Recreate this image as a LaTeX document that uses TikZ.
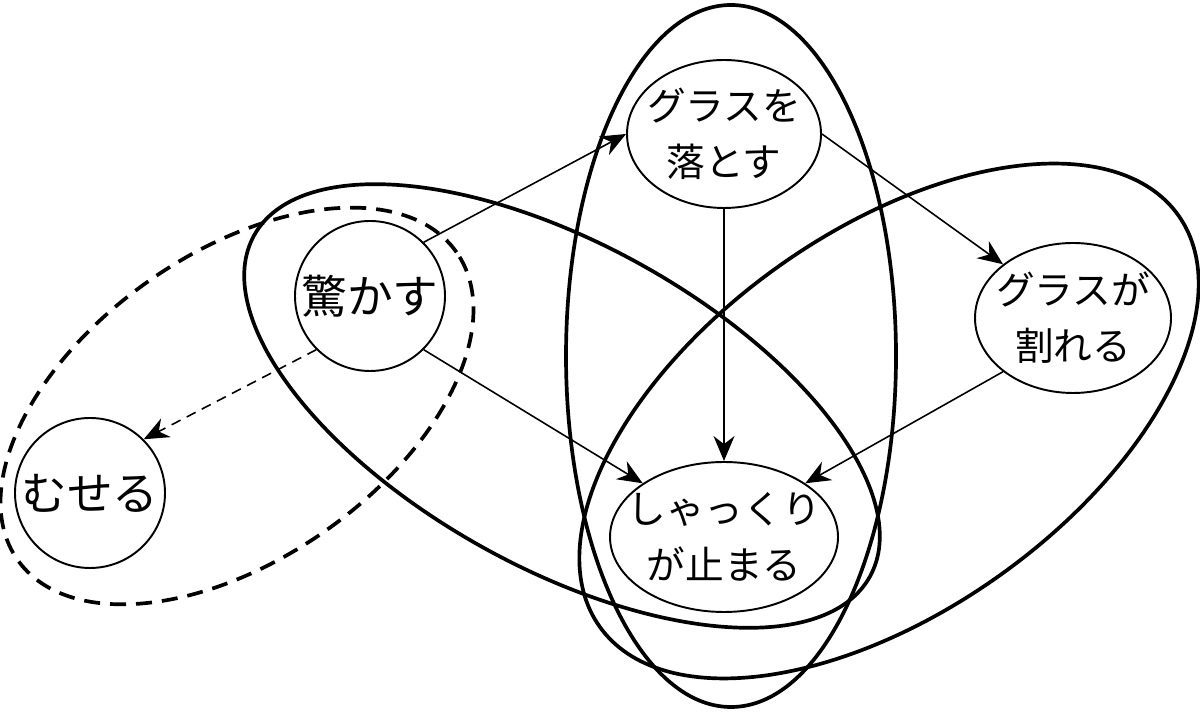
\documentclass[tikz,border=0pt]{standalone}
\usepackage{fontspec}
\newfontfamily\jpfont{Noto Sans CJK JP}
\usetikzlibrary{shapes.geometric,arrows.meta}

\tikzset{
    nodo/.style={draw, line width=1.1pt, fill=white, align=center,
        font=\jpfont\fontsize{22}{32}\selectfont},
    cerchio/.style={nodo, circle, inner sep=0pt, minimum size=3cm,
        font=\jpfont\fontsize{26}{32}\selectfont},
    ovale/.style={nodo, ellipse, inner sep=-1cm},
    freccia/.style={-{Stealth[length=0.5cm,width=0.42cm]}, line width=0.9pt},
    gruppo/.style={line width=2.1pt}
}

\begin{document}
\begin{tikzpicture}
    \useasboundingbox (0,0) rectangle (24,14.24);

    % Insiemi grandi
    \draw[gruppo, dash pattern=on 0.32cm off 0.2cm, rotate around={35:(4.74,6.12)}] (4.74,6.12) ellipse (5.36 and 3.06);
    \draw[gruppo, rotate around={-29:(11.24,6.12)}] (11.24,6.12) ellipse (7.04 and 3.24);
    \draw[gruppo, rotate around={35.4:(17.78,5.82)}] (17.78,5.82) ellipse (7.10 and 3.80);
    \draw[gruppo] (14.62,7.12) ellipse (3.30 and 7.02);

    % Nodi
    \node[cerchio] (odorokasu) at (7.40,8.32) {驚かす};
    \node[cerchio] (museru) at (1.80,4.38) {むせる};
    \node[ovale, minimum width=3.88cm, minimum height=2.96cm] (otosu) at (14.48,11.56) {グラスを\\落とす};
    \node[ovale, minimum width=4.56cm, minimum height=3cm] (tomaru) at (14.48,3.50) {しゃっくり\\が止まる};
    \node[ovale, minimum width=3.92cm, minimum height=3cm] (wareru) at (21.46,7.88) {グラスが\\割れる};

    % Frecce
    \draw[freccia] (odorokasu.north east) -- (otosu.west);
    \draw[freccia] (odorokasu.south east) -- (tomaru.north west);
    \draw[freccia, dash pattern=on 0.2cm off 0.14cm] (odorokasu.south west) -- (museru.north east);
    \draw[freccia] (otosu.south) -- (tomaru.north);
    \draw[freccia] (otosu.east) -- (wareru.north west);
    \draw[freccia] (wareru.south west) -- (tomaru.north east);
\end{tikzpicture}
\end{document}
